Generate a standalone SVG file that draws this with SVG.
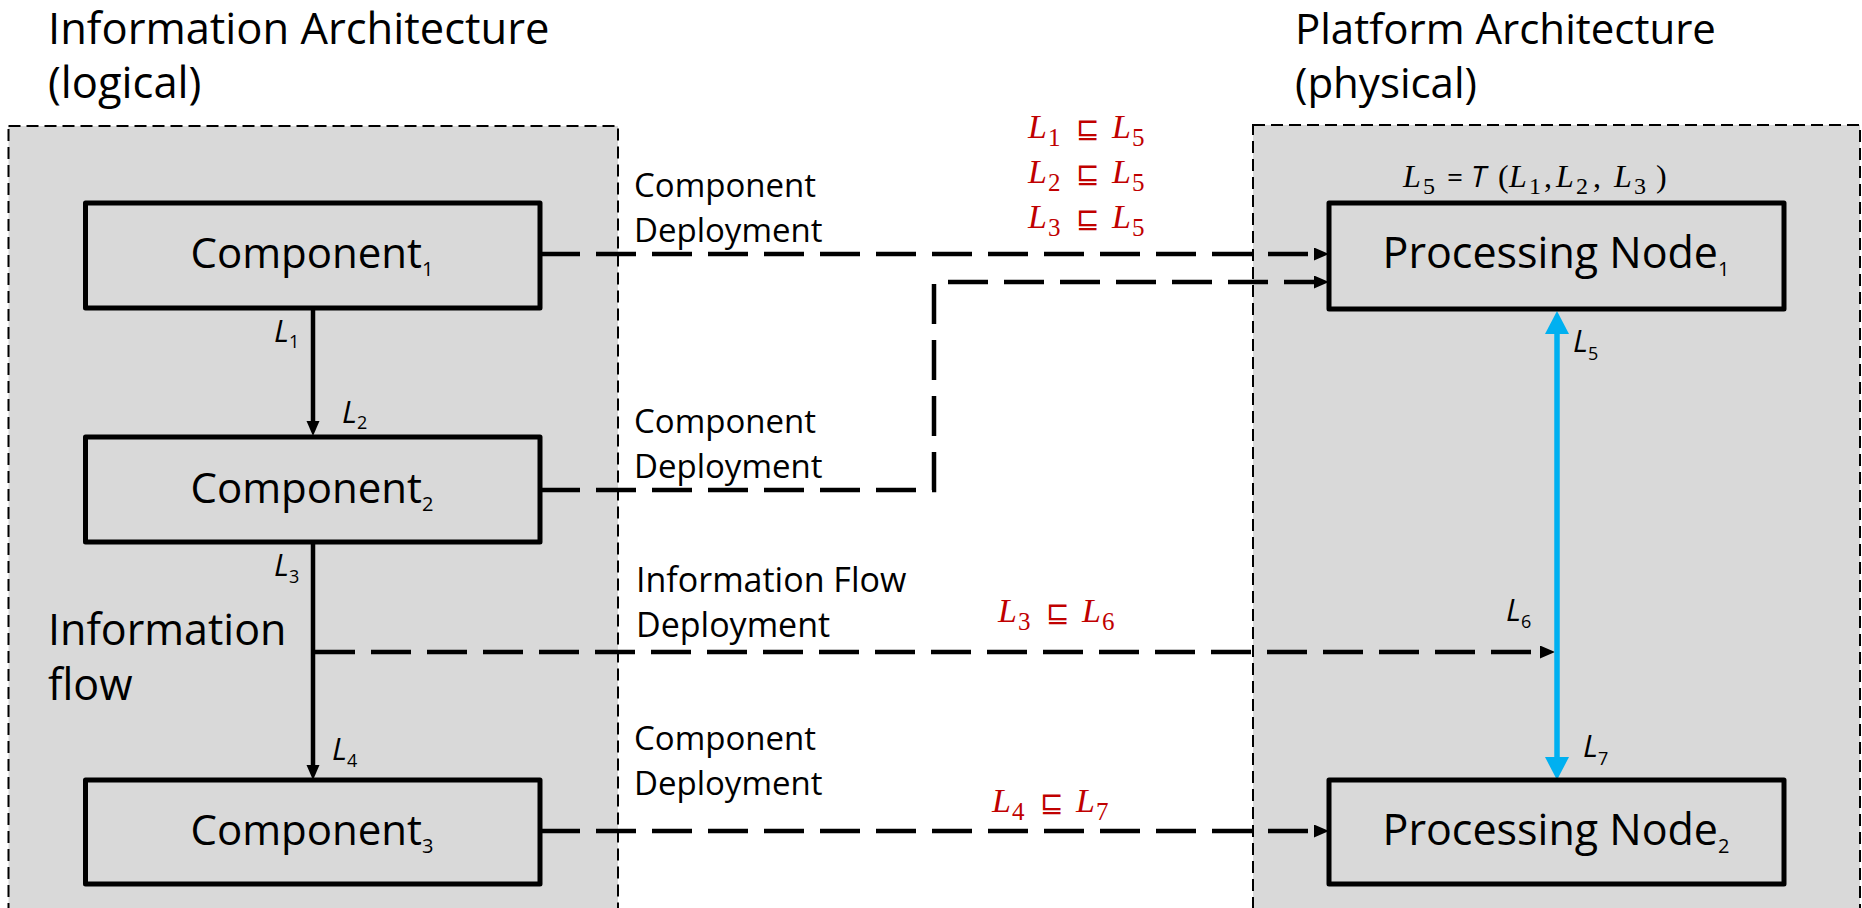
<svg xmlns="http://www.w3.org/2000/svg" width="1862" height="908" viewBox="0 0 1862 908">
<style>
.panel{fill:#D9D9D9;stroke:#000;stroke-width:2;stroke-dasharray:12 6}
.box{fill:#D9D9D9;stroke:#000;stroke-width:5;stroke-linejoin:round}
.big{font-family:"Open Sans","Noto Sans",sans-serif;font-size:42px;fill:#000}
.mid{font-family:"Open Sans","Noto Sans",sans-serif;font-size:33px;fill:#000}
.sub{font-size:20px}
.lab{font-family:"Open Sans","Noto Sans",sans-serif;font-size:31px;font-style:italic;fill:#000}
.lsub{font-size:18px;font-style:normal}
.math{font-family:"Liberation Serif","DejaVu Serif",serif;font-size:34px;font-style:italic}
.msub{font-family:"Liberation Serif","DejaVu Serif",serif;font-size:25px;font-style:normal}
.sq{font-family:"DejaVu Sans",sans-serif;font-size:28px;font-style:normal}
.red{fill:#C00000}
.dash{fill:none;stroke:#000;stroke-width:4.5;stroke-dasharray:40 16}
.solid{fill:none;stroke:#000;stroke-width:4.5}
.blue{fill:none;stroke:#00B0F0;stroke-width:5.5}
</style>
<defs>
<marker id="ah" markerUnits="userSpaceOnUse" markerWidth="16" markerHeight="14" refX="5" refY="6.5" orient="auto" viewBox="0 0 16 14">
<path d="M0,0 L15,6.5 L0,13 z" fill="#000"/>
</marker>
<marker id="bh" markerUnits="userSpaceOnUse" markerWidth="24" markerHeight="25" refX="8" refY="12" orient="auto-start-reverse" viewBox="0 0 24 25">
<path d="M0,0 L23,12 L0,24 z" fill="#00B0F0"/>
</marker>
</defs>

<g id="panel-info">
<rect class="panel" x="8.5" y="126" width="609.5" height="820"/>
<text class="big" x="48" y="44" style="font-size:43.5px">Information Architecture</text>
<text class="big" x="48" y="98" style="font-size:43.5px">(logical)</text>
<text class="big" x="48" y="645" style="font-size:43px">Information</text>
<text class="big" x="48" y="700" style="font-size:43px">flow</text>
</g>

<g id="panel-platform">
<rect class="panel" x="1253" y="125" width="607" height="820"/>
<text class="big" x="1295" y="44">Platform Architecture</text>
<text class="big" x="1295" y="98">(physical)</text>
</g>

<g id="connectors">
<path class="solid" d="M313,308 V426" marker-end="url(#ah)"/>
<path class="solid" d="M313,542 V770" marker-end="url(#ah)"/>
<path class="dash" d="M540,254 H1319" marker-end="url(#ah)"/>
<path class="dash" d="M540,490 H934 V282 H1319" marker-end="url(#ah)"/>
<path class="dash" d="M315,652 H1545" marker-end="url(#ah)"/>
<path class="dash" d="M540,831 H1319" marker-end="url(#ah)"/>
<path class="blue" d="M1557,326 V765" marker-start="url(#bh)" marker-end="url(#bh)"/>
</g>

<g id="component1">
<rect class="box" x="85.5" y="203" width="454.5" height="105"/>
<text class="big" x="312" y="268" text-anchor="middle">Component<tspan class="sub" dy="8">1</tspan></text>
</g>
<g id="component2">
<rect class="box" x="85.5" y="437" width="454.5" height="105"/>
<text class="big" x="312" y="503" text-anchor="middle">Component<tspan class="sub" dy="8">2</tspan></text>
</g>
<g id="component3">
<rect class="box" x="85.5" y="780" width="454.5" height="104"/>
<text class="big" x="312" y="845" text-anchor="middle">Component<tspan class="sub" dy="8">3</tspan></text>
</g>
<g id="node1">
<rect class="box" x="1329" y="203" width="455" height="106"/>
<text class="big" x="1556" y="268" text-anchor="middle" style="font-size:43px">Processing Node<tspan class="sub" dy="8">1</tspan></text>
</g>
<g id="node2">
<rect class="box" x="1329" y="780" width="455" height="104"/>
<text class="big" x="1556" y="845" text-anchor="middle" style="font-size:43px">Processing Node<tspan class="sub" dy="8">2</tspan></text>
</g>

<g id="labels">
<text class="mid" x="634" y="197">Component</text>
<text class="mid" x="634" y="242">Deployment</text>
<text class="mid" x="634" y="433">Component</text>
<text class="mid" x="634" y="478">Deployment</text>
<text class="mid" x="636" y="592" style="font-size:34px">Information Flow</text>
<text class="mid" x="636" y="637" style="font-size:34px">Deployment</text>
<text class="mid" x="634" y="750">Component</text>
<text class="mid" x="634" y="795">Deployment</text>

<text class="lab" x="274" y="342">L<tspan class="lsub" dy="6">1</tspan></text>
<text class="lab" x="342" y="423">L<tspan class="lsub" dy="6">2</tspan></text>
<text class="lab" x="274" y="576">L<tspan class="lsub" dy="7">3</tspan></text>
<text class="lab" x="332" y="760">L<tspan class="lsub" dy="7">4</tspan></text>
<text class="lab" x="1573" y="352">L<tspan class="lsub" dy="8">5</tspan></text>
<text class="lab" x="1506" y="621">L<tspan class="lsub" dy="7">6</tspan></text>
<text class="lab" x="1583" y="757">L<tspan class="lsub" dy="8">7</tspan></text>

<text class="math red" x="1028" y="138">L<tspan class="msub" x="1048" y="146">1</tspan><tspan class="sq" x="1076" y="138">⊑</tspan><tspan x="1112" y="138">L</tspan><tspan class="msub" x="1132" y="146">5</tspan></text>
<text class="math red" x="1028" y="183">L<tspan class="msub" x="1048" y="191">2</tspan><tspan class="sq" x="1076" y="183">⊑</tspan><tspan x="1112" y="183">L</tspan><tspan class="msub" x="1132" y="191">5</tspan></text>
<text class="math red" x="1028" y="228">L<tspan class="msub" x="1048" y="236">3</tspan><tspan class="sq" x="1076" y="228">⊑</tspan><tspan x="1112" y="228">L</tspan><tspan class="msub" x="1132" y="236">5</tspan></text>
<text class="math red" x="998" y="622">L<tspan class="msub" x="1018" y="630">3</tspan><tspan class="sq" x="1046" y="622">⊑</tspan><tspan x="1082" y="622">L</tspan><tspan class="msub" x="1102" y="630">6</tspan></text>
<text class="math red" x="992" y="812">L<tspan class="msub" x="1012" y="820">4</tspan><tspan class="sq" x="1040" y="812">⊑</tspan><tspan x="1076" y="812">L</tspan><tspan class="msub" x="1096" y="820">7</tspan></text>

<text class="math" x="1403" y="187" style="font-size:32px">L<tspan class="msub" x="1423" y="194" style="font-size:24px">5</tspan><tspan class="lab" x="1447" y="187" style="font-size:28px;font-style:normal">=</tspan><tspan class="lab" x="1471" y="187" style="font-size:30px">T</tspan><tspan style="font-style:normal" x="1498" y="187">(</tspan><tspan x="1509" y="187">L</tspan><tspan class="msub" x="1529" y="194" style="font-size:24px">1</tspan><tspan style="font-style:normal" x="1544" y="187">,</tspan><tspan x="1556" y="187">L</tspan><tspan class="msub" x="1576" y="194" style="font-size:24px">2</tspan><tspan style="font-style:normal" x="1593" y="187">,</tspan><tspan x="1614" y="187">L</tspan><tspan class="msub" x="1634" y="194" style="font-size:24px">3</tspan><tspan style="font-style:normal" x="1656" y="187">)</tspan></text>
</g>
</svg>
